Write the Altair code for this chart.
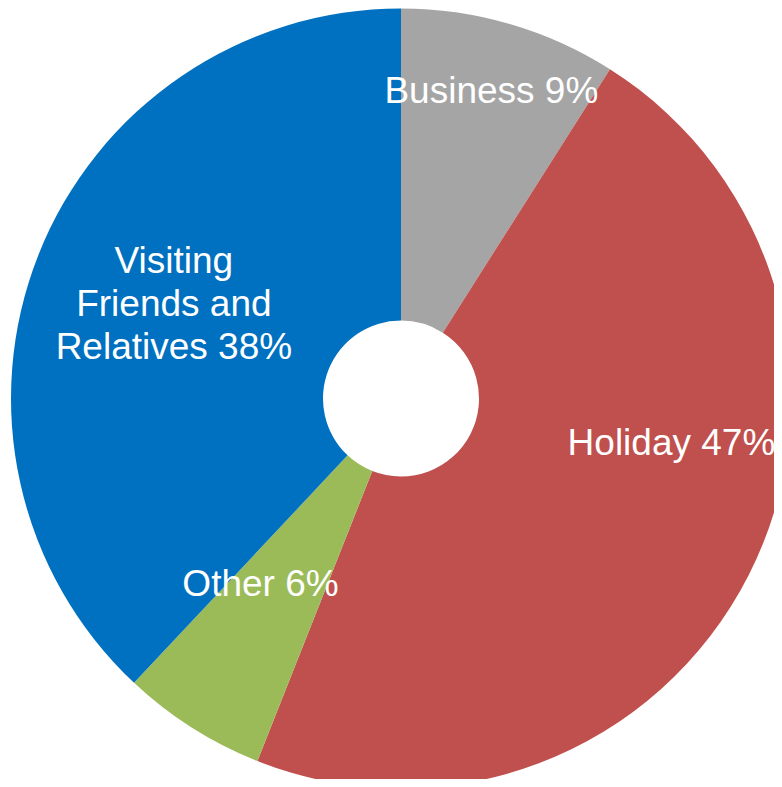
import altair as alt
import pandas as pd

categories = ["Business", "Holiday", "Other", "Visiting Friends and Relatives"]
values = [9, 47, 6, 38]
labels = ["Business 9%", "Holiday 47%", "Other 6%", "Visiting\nFriends and\nRelatives 38%"]
colors = ["#A5A5A5", "#C0504D", "#9BBB59", "#0070C0"]

df = pd.DataFrame({
    "category": categories,
    "value": values,
    "label": labels,
    "idx": list(range(len(categories))),
})

CX, CY = 393, 390.5

base = alt.Chart(df)

arcs = base.mark_arc(outerRadius=390, innerRadius=78, x=CX, y=CY).encode(
    theta=alt.Theta("value:Q", stack=True),
    order=alt.Order("idx:Q"),
    color=alt.Color("category:N", scale=alt.Scale(domain=categories, range=colors), legend=None),
)

# label placement (polar offsets from the pie centre): radius px, theta rad
placements = {
    "Business": (309.0, 0.2967),
    "Holiday": (276.2, 1.775),
    "Other": (242.0, 3.761),
    "Visiting Friends and Relatives": (259.6, 5.218),
}

layers = [arcs]
for cat, (r, t) in placements.items():
    layers.append(
        base.transform_filter(alt.datum.category == cat).mark_text(
            x=CX, y=CY, radius=r, theta=t,
            align="center", baseline="alphabetic",
            font="Liberation Sans", fontSize=37, color="white",
            lineBreak="\n", lineHeight=43,
        ).encode(text="label:N")
    )

chart = alt.layer(*layers).properties(
    width=766, height=771,
    autosize=alt.AutoSizeParams(type="none"),
    padding=0,
).configure_view(stroke=None)

chart.save("out.html", embed_options={"renderer": "svg", "actions": False})
